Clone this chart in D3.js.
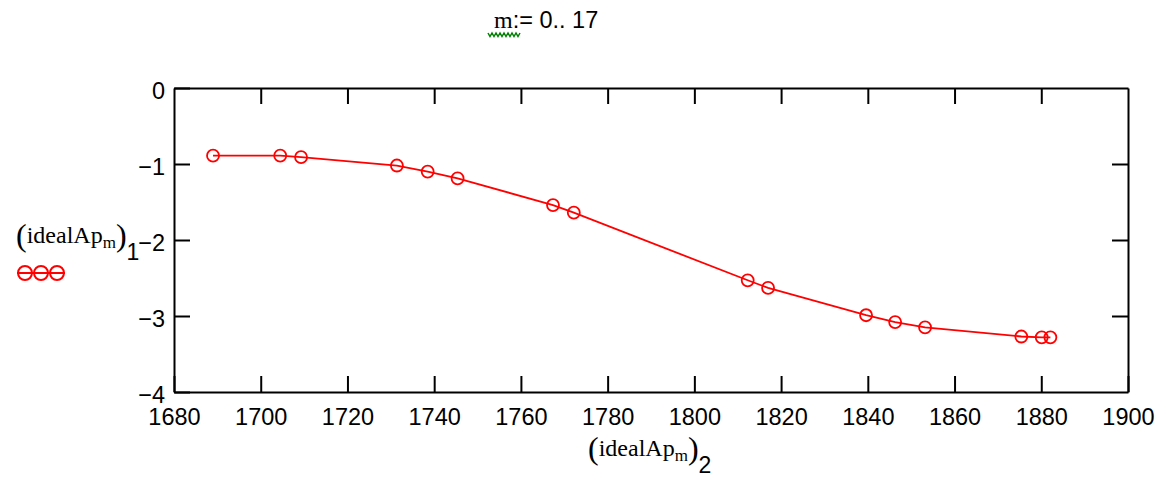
<!DOCTYPE html>
<html>
<head>
<meta charset="utf-8">
<script src="https://cdn.jsdelivr.net/npm/d3@7"></script>
<style>
  body { margin: 0; background: #fff; }
  svg { display: block; }
</style>
</head>
<body>
<svg id="chart" width="1162" height="482"></svg>
<script>
// values
const apX = [1689.0, 1704.5, 1709.3, 1731.4, 1738.5, 1745.4, 1767.4, 1772.2, 1812.3, 1817.0, 1839.6, 1846.3, 1853.2, 1875.4, 1880.1, 1882.1]
const apY = [-0.89, -0.89, -0.91, -1.02, -1.10, -1.19, -1.54, -1.64, -2.53, -2.63, -2.99, -3.08, -3.15, -3.27, -3.28, -3.28]
const xTicks = [1680, 1700, 1720, 1740, 1760, 1780, 1800, 1820, 1840, 1860, 1880, 1900]
const yTicks = [0, -1, -2, -3, -4]

let svg = d3.select("#chart")
let padLeft = 174, padTop = 88
let w = 1128 - padLeft
let h = 392 - padTop

let x = d3.scaleLinear().domain([1680, 1900]).range([0, w])
let y = d3.scaleLinear().domain([-4, 0]).range([h, 0])

let d = apX.map((v, i) => { return {"x": v, "y": apY[i]} })

let g = svg.append("g")
  .attr("transform", "translate(" + padLeft + "," + padTop + ")")

const fmt = (v) => { return v < 0 ? "\u2212" + Math.abs(v) : "" + v }

// frame and inward ticks
let inner = xTicks.slice(1, -1)
let innerY = yTicks.slice(1, -1)

g.append("g")
  .attr("transform", "translate(0," + h + ")")
  .call(d3.axisBottom(x).tickValues(xTicks).tickSize(-16).tickSizeOuter(0).tickPadding(16).tickFormat(fmt))

g.append("g")
  .call(d3.axisTop(x).tickValues(inner).tickSize(-16).tickSizeOuter(0).tickFormat(""))

let yAxis = g.append("g")
  .call(d3.axisLeft(y).tickValues(yTicks).tickSize(-16).tickSizeOuter(0).tickPadding(9).tickFormat(fmt))

g.append("g")
  .attr("transform", "translate(" + w + ",0)")
  .call(d3.axisRight(y).tickValues(innerY).tickSize(-16).tickSizeOuter(0).tickFormat(""))

g.selectAll(".domain").attr("stroke", "black").attr("stroke-width", 2)
g.selectAll(".tick line").attr("stroke", "black").attr("stroke-width", 2)
g.selectAll(".tick text")
  .attr("fill", "black")
  .attr("font-family", "Liberation Sans, Arial, sans-serif")
  .attr("font-size", "23.5px")
yAxis.selectAll(".tick text").attr("dy", "0.45em")

// line and markers
g.append("path")
  .datum(d)
  .attr("fill", "none")
  .attr("stroke", "red")
  .attr("stroke-width", 1.8)
  .attr("d", d3.line()
    .x((d) => { return x(d.x) })
    .y((d) => { return y(d.y) }))

g.selectAll("circle.pt")
  .data(d)
  .enter()
  .append("circle")
  .attr("class", "pt")
  .attr("cx", (d) => { return x(d.x) })
  .attr("cy", (d) => { return y(d.y) })
  .attr("r", 6)
  .attr("fill", "none")
  .attr("stroke", "red")
  .attr("stroke-width", 1.8)

// math-style labels
const serif = "Liberation Serif, Times New Roman, serif"
const sans = "Liberation Sans, Arial, sans-serif"

function mathLabel(px, py, sub) {
  let t = svg.append("text").attr("x", px).attr("y", py).attr("fill", "black")
  t.append("tspan").attr("font-family", serif).attr("font-size", "32px").attr("dy", 3).text("(")
  t.append("tspan").attr("font-family", serif).attr("font-size", "24px").attr("dy", -3).text("idealAp")
  t.append("tspan").attr("font-family", serif).attr("font-size", "17px").attr("dy", 5).text("m")
  t.append("tspan").attr("font-family", serif).attr("font-size", "32px").attr("dy", -2).text(")")
  t.append("tspan").attr("font-family", sans).attr("font-size", "23px").attr("dy", 14).text(sub)
  return t
}

mathLabel(16, 243, "1")
mathLabel(588, 456, "2")

// legend
svg.append("line")
  .attr("x1", 17).attr("x2", 65)
  .attr("y1", 273).attr("y2", 273)
  .attr("stroke", "red").attr("stroke-width", 2)
svg.selectAll("circle.leg")
  .data([25, 41, 57])
  .enter()
  .append("circle")
  .attr("class", "leg")
  .attr("cx", (d) => { return d })
  .attr("cy", 273)
  .attr("r", 7)
  .attr("fill", "none")
  .attr("stroke", "red")
  .attr("stroke-width", 2)

// range definition on top
let title = svg.append("text").attr("x", 494).attr("y", 28).attr("fill", "black")
title.append("tspan").attr("font-family", serif).attr("font-size", "24px").text("m")
title.append("tspan").attr("font-family", sans).attr("font-size", "23.5px").text(":= 0.. 17")

let wave = "M488,33"
for (let i = 0; i < 8; i++) {
  wave += " l2,3.5 l2,-3.5"
}
svg.append("path")
  .attr("d", wave)
  .attr("fill", "none")
  .attr("stroke", "green")
  .attr("stroke-width", 1.5)
</script>
</body>
</html>
